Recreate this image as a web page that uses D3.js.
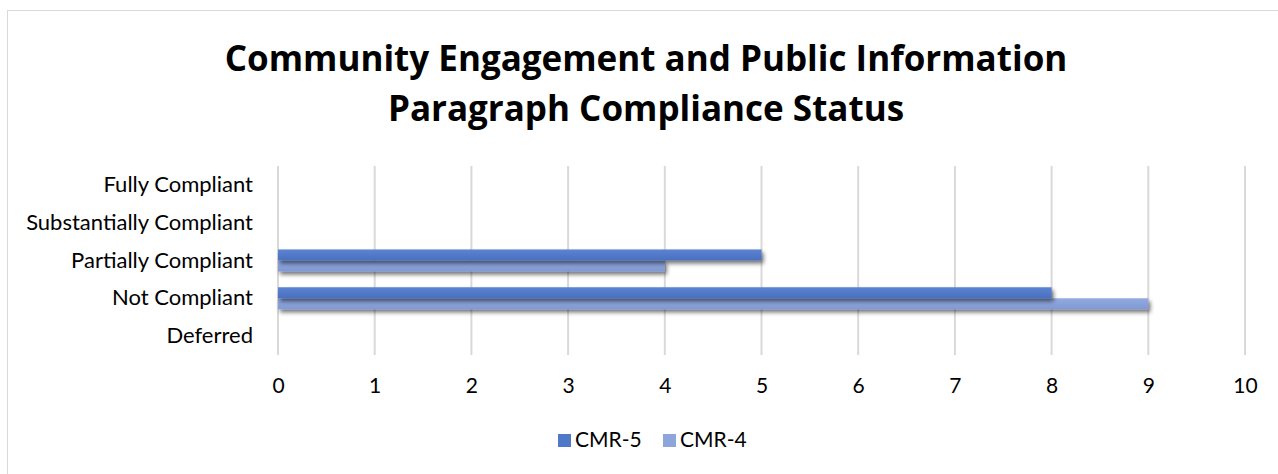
<!DOCTYPE html>
<html>
<head>
<meta charset="utf-8">
<script src="https://cdn.jsdelivr.net/npm/d3@7"></script>
<style>
  html, body { margin: 0; padding: 0; background: #fff; }
  svg { display: block; }
  text { font-family: Lato, "Open Sans", sans-serif; fill: #000; }
</style>
</head>
<body>
<svg id="chart" width="1278" height="474"></svg>
<script>
// Compliance categories, top to bottom
const categories = ["Fully Compliant", "Substantially Compliant", "Partially Compliant", "Not Compliant", "Deferred"];
// Series values per category
const seriesNames = ["CMR-5", "CMR-4"];
const cmr5 = [0, 0, 5, 8, 0];
const cmr4 = [0, 0, 4, 9, 0];
// Axis ticks
const xTicks = [0, 1, 2, 3, 4, 5, 6, 7, 8, 9, 10];
const titleLines = ["Community Engagement and Public Information", "Paragraph Compliance Status"];

const svg = d3.select("#chart");
const W = 1278, H = 474;

// Gradients and shadow
const defs = svg.append("defs");
const grads = [
  { id: "g5", top: "#5b84d3", bottom: "#4a6fbf" },
  { id: "g4", top: "#93aae0", bottom: "#8099d3" }
];
grads.forEach(g => {
  const lg = defs.append("linearGradient").attr("id", g.id).attr("x1", 0).attr("y1", 0).attr("x2", 0).attr("y2", 1);
  lg.append("stop").attr("offset", "0%").attr("stop-color", g.top);
  lg.append("stop").attr("offset", "100%").attr("stop-color", g.bottom);
});
const f = defs.append("filter").attr("id", "shadow").attr("x", "-5%").attr("y", "-50%").attr("width", "110%").attr("height", "250%");
f.append("feGaussianBlur").attr("in", "SourceAlpha").attr("stdDeviation", 2.2).attr("result", "b");
f.append("feOffset").attr("in", "b").attr("dx", 1.5).attr("dy", 3).attr("result", "o");
f.append("feComponentTransfer").attr("in", "o").attr("result", "s")
  .append("feFuncA").attr("type", "linear").attr("slope", 0.55);
const fm = f.append("feMerge");
fm.append("feMergeNode").attr("in", "s");
fm.append("feMergeNode").attr("in", "SourceGraphic");

// Chart frame
svg.append("rect").attr("x", 7.5).attr("y", 10.5).attr("width", W + 20).attr("height", H + 20)
  .attr("fill", "#fff").attr("stroke", "#d9d9d9").attr("stroke-width", 1);

// Title
svg.append("g").selectAll("text").data(titleLines).join("text")
  .attr("x", 646).attr("y", (d, i) => 71 + i * 50)
  .attr("text-anchor", "middle")
  .style("font-family", "'Open Sans', sans-serif")
  .attr("font-size", 35).attr("font-weight", "bold")
  .text(d => d);

const plot = { left: 278, right: 1245, top: 166, bottom: 355 };
const x = d3.scaleLinear().domain([0, 10]).range([plot.left, plot.right]);
const y = d3.scaleBand().domain(categories).range([plot.top, plot.bottom]);
const sub = d3.scaleBand().domain(seriesNames).range([0, y.bandwidth()]).paddingInner(0).paddingOuter(0.71);

// Vertical gridlines
svg.append("g").selectAll("line").data(xTicks).join("line")
  .attr("x1", d => x(d)).attr("x2", d => x(d))
  .attr("y1", plot.top).attr("y2", plot.bottom)
  .attr("stroke", "#d9d9d9").attr("stroke-width", 2);

// X axis labels
const xAxis = svg.append("g").attr("transform", `translate(0,${plot.bottom})`)
  .call(d3.axisBottom(x).tickValues(xTicks).tickSize(0).tickPadding(23).tickFormat(d3.format("d")));
xAxis.select(".domain").remove();
xAxis.selectAll("text").attr("font-size", 21).style("font-family", "Lato, sans-serif").attr("fill", "#000");

// Y axis labels
const yAxis = svg.append("g").attr("transform", `translate(${plot.left - 25},0)`)
  .call(d3.axisLeft(y).tickSize(0).tickPadding(0));
yAxis.select(".domain").remove();
yAxis.selectAll("text").attr("font-size", 22).style("font-family", "Lato, sans-serif").attr("fill", "#000");

// Bars
const rows = [];
categories.forEach((c, i) => {
  rows.push({ cat: c, s: "CMR-5", v: cmr5[i], g: "g5" });
  rows.push({ cat: c, s: "CMR-4", v: cmr4[i], g: "g4" });
});
svg.append("g").selectAll("rect").data(rows.filter(d => d.v > 0).reverse()).join("rect")
  .attr("x", x(0))
  .attr("y", d => y(d.cat) + sub(d.s))
  .attr("width", d => x(d.v) - x(0))
  .attr("height", sub.bandwidth())
  .attr("fill", d => `url(#${d.g})`)
  .attr("filter", "url(#shadow)");

// Legend
const leg = svg.append("g").attr("transform", "translate(558,440)");
const legItems = [{ n: "CMR-5", c: "#4f78c8", dx: 0 }, { n: "CMR-4", c: "#8ea5dc", dx: 105 }];
legItems.forEach(it => {
  const g = leg.append("g").attr("transform", `translate(${it.dx},0)`);
  g.append("rect").attr("x", 0).attr("y", -6).attr("width", 13).attr("height", 13).attr("fill", it.c);
  g.append("text").attr("x", 17).attr("y", 0).attr("dy", "0.35em").attr("font-size", 21).text(it.n);
});
</script>
</body>
</html>
